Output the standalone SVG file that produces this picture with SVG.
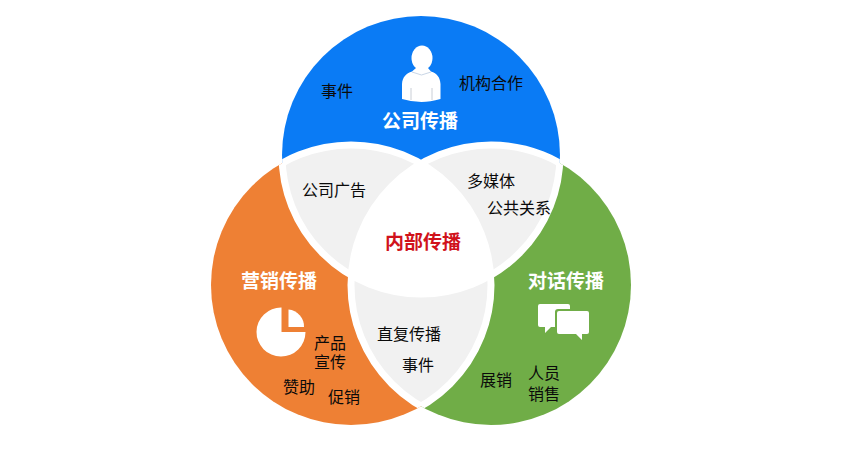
<svg xmlns="http://www.w3.org/2000/svg" width="867" height="456" viewBox="0 0 867 456">
<style>
text{font-family:"Noto Sans CJK SC","Liberation Sans",sans-serif;text-anchor:middle;font-size:16px;fill:#0a0a0a}
.h{font-size:19px;font-weight:700;fill:#fff}
.r{font-size:19px;font-weight:700;fill:#d0121b}
.band{fill:none;stroke:#fff;stroke-width:7}
.ic{fill:#fff}
</style>
<defs>
<clipPath id="cT"><circle cx="421" cy="155" r="139"/></clipPath>
<clipPath id="cL"><circle cx="351" cy="285" r="140"/></clipPath>
<clipPath id="cR"><circle cx="491" cy="285" r="140"/></clipPath>
<clipPath id="uT"><circle cx="351" cy="285" r="140"/><circle cx="491" cy="285" r="140"/></clipPath>
<clipPath id="uL"><circle cx="421" cy="155" r="139"/><circle cx="491" cy="285" r="140"/></clipPath>
<clipPath id="uR"><circle cx="421" cy="155" r="139"/><circle cx="351" cy="285" r="140"/></clipPath>
</defs>
<rect width="867" height="456" fill="#fff"/>
<g id="node-company"><circle cx="421" cy="155" r="139" fill="#0a7bf5"/></g>
<g id="node-marketing"><circle cx="351" cy="285" r="140" fill="#ee8034"/></g>
<g id="node-dialog"><circle cx="491" cy="285" r="140" fill="#70ad47"/></g>
<g id="overlaps">
<g clip-path="url(#cT)"><circle cx="351" cy="285" r="140" fill="#f1f1f1"/><circle cx="491" cy="285" r="140" fill="#f1f1f1"/></g>
<g clip-path="url(#cL)"><circle cx="491" cy="285" r="140" fill="#f1f1f1"/></g>
</g>
<g id="node-internal"><g clip-path="url(#cT)"><g clip-path="url(#cL)"><circle cx="491" cy="285" r="140" fill="#fff"/></g></g></g>
<g id="connectors">
<circle class="band" cx="421" cy="155" r="139" clip-path="url(#uT)"/>
<circle class="band" cx="351" cy="285" r="140" clip-path="url(#uL)"/>
<circle class="band" cx="491" cy="285" r="140" clip-path="url(#uR)"/>
</g>
<g id="icon-person">
<ellipse class="ic" cx="422" cy="58" rx="10.500" ry="12.500"/>
<path class="ic" d="M416,68H428L431,71.500C437,73.500 440,77 440.500,84L440.500,99Q430,102 421.500,102Q412,102 402,99L402,84C402.500,77 406,73.500 412,71.500Z"/>
<path d="M412,72L421.500,75L431,72" stroke="#c9d6e6" stroke-width="1" fill="none"/>
<path d="M411,88V100M432,88V100" stroke="#c9ced6" stroke-width="1" fill="none"/>
</g>
<g id="icon-pie">
<path class="ic" d="M281.500,307.500V332H305.500A24.500,24.500 0 1 1 281.500,307.500Z"/>
<path class="ic" d="M288.500,309.500A17,17 0 0 1 304,327H288.500Z"/>
</g>
<g id="icon-chat">
<path class="ic" d="M540,304H568Q570,304 570,306V309H558Q555,309 555,312V327H551L545,333V327H540Q538,327 538,325V306Q538,304 540,304Z"/>
<path class="ic" d="M559,311H587Q589,311 589,313V332Q589,334 587,334H582V340L576,334H559Q557,334 557,332V313Q557,311 559,311Z"/>
</g>
<g id="labels">
<text x="337" y="97">事件</text>
<text x="491" y="89">机构合作</text>
<text class="h" x="420" y="128">公司传播</text>
<text x="334" y="196">公司广告</text>
<text x="491" y="187">多媒体</text>
<text x="519" y="214">公共关系</text>
<text class="r" x="423" y="249">内部传播</text>
<text class="h" x="279" y="288">营销传播</text>
<text class="h" x="566" y="288">对话传播</text>
<text x="330" y="349"><tspan x="330">产品</tspan><tspan x="330" dy="19">宣传</tspan></text>
<text x="299" y="393">赞助</text>
<text x="344" y="403">促销</text>
<text x="409" y="340">直复传播</text>
<text x="418" y="371">事件</text>
<text x="496" y="386">展销</text>
<text x="544" y="379"><tspan x="544">人员</tspan><tspan x="544" dy="21">销售</tspan></text>
</g>
</svg>
